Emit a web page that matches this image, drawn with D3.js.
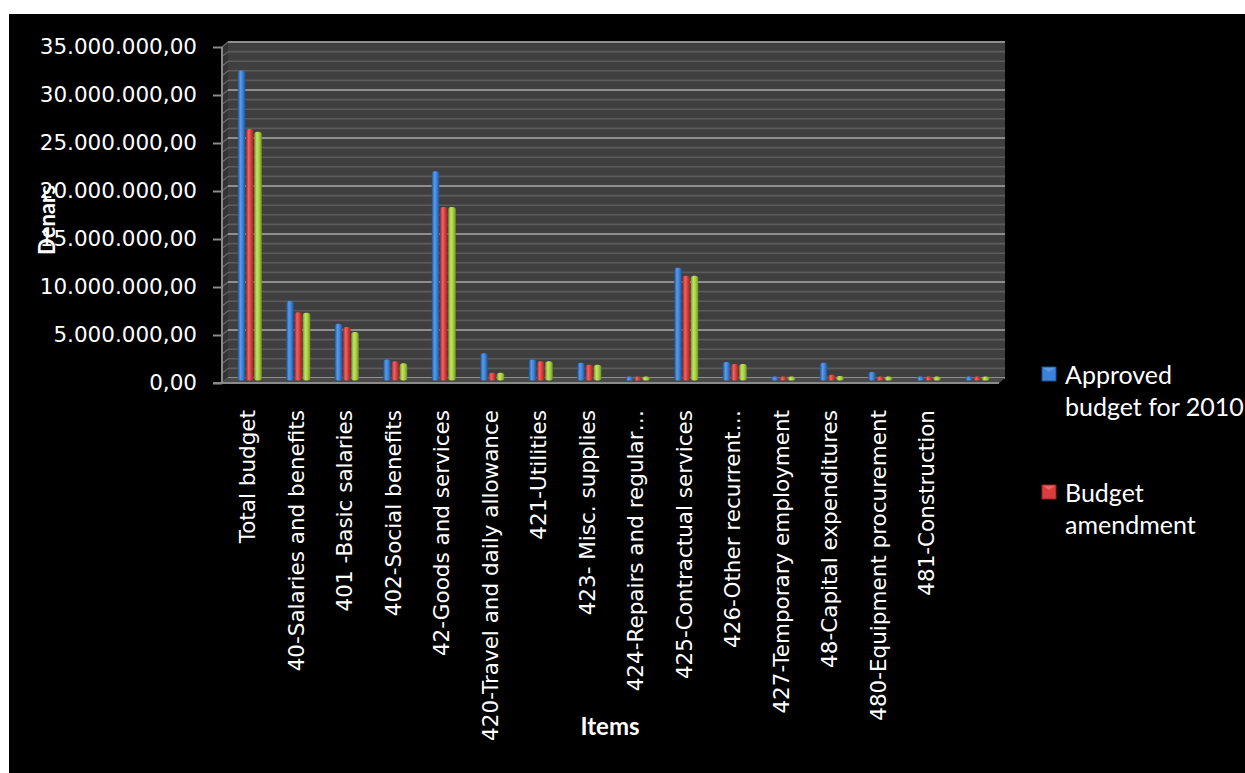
<!DOCTYPE html>
<html>
<head>
<meta charset="utf-8">
<script src="https://cdn.jsdelivr.net/npm/d3@7/dist/d3.min.js"></script>
<style>
  html, body { margin: 0; padding: 0; background: #ffffff; }
  svg { display: block; }
</style>
</head>
<body>
<svg id="chart" width="1245" height="773"></svg>
<script>
// ---- data ----
const categories = ["Total budget", "40-Salaries and benefits", "401 -Basic salaries", "402-Social benefits",
  "42-Goods and services", "420-Travel and daily allowance", "421-Utilities", "423- Misc. supplies",
  "424-Repairs and regular…", "425-Contractual services", "426-Other recurrent…", "427-Temporary employment",
  "48-Capital expenditures", "480-Equipment procurement", "481-Construction", ""];
const seriesNames = ["Approved budget for 2010", "Budget amendment", "Series 3"];
const approved  = [32300000, 8280000, 5900000, 2200000, 21800000, 2830000, 2200000, 1860000, 260000, 11750000, 1930000, 120000, 1860000, 890000, 360000, 360000];
const amendment = [26200000, 7100000, 5570000, 2000000, 18070000, 810000, 2000000, 1650000, 220000, 10900000, 1720000, 100000, 600000, 190000, 200000, 250000];
const series3   = [25900000, 7060000, 5050000, 1800000, 18070000, 810000, 2000000, 1650000, 200000, 10900000, 1720000, 100000, 470000, 150000, 150000, 120000];
const yTicks = [0, 5000000, 10000000, 15000000, 20000000, 25000000, 30000000, 35000000];
const legendShown = [0, 1];

const seriesValues = [approved, amendment, series3];
const colors = [
  { dark: "#1d4f95", mid: "#3d82d6", light: "#5b9be6" },
  { dark: "#9c2323", mid: "#d93d3d", light: "#ec6666" },
  { dark: "#6f9421", mid: "#a6cf3f", light: "#c2e36a" }
];

const svg = d3.select("#chart");
const W = 1245, H = 773;

// black panel
svg.append("rect").attr("x", 9).attr("y", 14).attr("width", W - 9).attr("height", H - 14).attr("fill", "#000");

// scales
const x0 = 222, x1 = 998, yBottom = 383, yTop = 47;
const dx = 6, dy = -5; // 3D depth offset
const y = d3.scaleLinear().domain([0, 35000000]).range([yBottom, yTop]);
const xBand = d3.scaleBand().domain(d3.range(categories.length)).range([x0, x1]);
const xSer = d3.scaleBand().domain(d3.range(3)).range([0, 24]).paddingInner(0.08);

const defs = svg.append("defs");
colors.forEach((c, i) => {
  const g = defs.append("linearGradient").attr("id", "bar" + i).attr("x1", 0).attr("x2", 1).attr("y1", 0).attr("y2", 0);
  g.append("stop").attr("offset", "0%").attr("stop-color", c.dark);
  g.append("stop").attr("offset", "35%").attr("stop-color", c.light);
  g.append("stop").attr("offset", "65%").attr("stop-color", c.mid);
  g.append("stop").attr("offset", "100%").attr("stop-color", c.dark);
});

// back wall
svg.append("rect").attr("x", x0 + dx).attr("y", yTop + dy)
  .attr("width", 1005 - (x0 + dx)).attr("height", (yBottom + dy) - (yTop + dy))
  .attr("fill", "#3f3f3f");
// side wall
svg.append("polygon")
  .attr("points", [[x0, yTop], [x0 + dx, yTop + dy], [x0 + dx, yBottom + dy], [x0, yBottom]].map(p => p.join(",")).join(" "))
  .attr("fill", "#333");

// minor gridlines (every 1M)
const minor = d3.range(0, 35000001, 1000000);
svg.append("g").selectAll("line").data(minor.filter(v => v % 5000000 !== 0)).join("line")
  .attr("x1", x0 + dx).attr("x2", 1005)
  .attr("y1", d => y(d) + dy).attr("y2", d => y(d) + dy)
  .attr("stroke", "#5c5c5c").attr("stroke-width", 1.6);
svg.append("g").selectAll("line").data(minor).join("line")
  .attr("x1", x0).attr("x2", x0 + dx)
  .attr("y1", d => y(d)).attr("y2", d => y(d) + dy)
  .attr("stroke", "#6a6a6a").attr("stroke-width", 1.2);
// major gridlines
svg.append("g").selectAll("line").data(yTicks).join("line")
  .attr("x1", x0 + dx).attr("x2", 1005)
  .attr("y1", d => y(d) + dy).attr("y2", d => y(d) + dy)
  .attr("stroke", "#8e8e8e").attr("stroke-width", 2);

// floor
svg.append("polygon")
  .attr("points", [[x0, yBottom], [x0 + dx, yBottom + dy], [1005, yBottom + dy], [999, yBottom]].map(p => p.join(",")).join(" "))
  .attr("fill", "#4a4a4a");

// bars
const groups = svg.append("g").selectAll("g").data(categories.map((c, i) => i)).join("g")
  .attr("transform", i => `translate(${xBand(i) + xBand.bandwidth() / 2 - 12 + 3.5},0)`);
groups.selectAll("rect").data(i => seriesValues.map((vals, s) => ({ s, v: vals[i] }))).join("rect")
  .attr("x", d => xSer(d.s))
  .attr("width", xSer.bandwidth())
  .attr("y", d => Math.min(y(d.v), y(0) - 4) - 2.5)
  .attr("height", d => Math.max(4, y(0) - y(d.v)))
  .attr("rx", 3).attr("ry", 2.5)
  .attr("fill", d => `url(#bar${d.s})`);

// floor front edge & y axis
svg.append("line").attr("x1", 213).attr("x2", 999).attr("y1", yBottom).attr("y2", yBottom)
  .attr("stroke", "#8a8a8a").attr("stroke-width", 2);
const yAxis = d3.axisLeft(y).tickValues(yTicks).tickSize(9)
  .tickFormat(d3.formatLocale({ decimal: ",", thousands: ".", grouping: [3], currency: ["", ""] }).format(",.2f"));
const ya = svg.append("g").attr("transform", `translate(${x0},0)`).call(yAxis);
ya.select(".domain").attr("stroke", "#8a8a8a").attr("stroke-width", 2).attr("d", `M0,${yTop}V${yBottom}`);
ya.selectAll(".tick line").attr("stroke", "#8a8a8a").attr("stroke-width", 2);
ya.selectAll(".tick text").attr("x", -25).attr("fill", "#fff")
  .style("font-family", "'DejaVu Sans', sans-serif").style("font-size", "21.5px");

// category labels
svg.append("g").selectAll("text").data(categories.map((c, i) => ({ c, i }))).join("text")
  .attr("transform", d => `translate(${xBand(d.i) + xBand.bandwidth() / 2 + 1},410) rotate(-90)`)
  .attr("text-anchor", "end").attr("dy", "0.36em")
  .attr("fill", "#fff")
  .style("font-family", "'DejaVu Sans', sans-serif").style("font-size", "21.5px")
  .text(d => d.c);

// axis titles
svg.append("text").attr("x", 610).attr("y", 735).attr("text-anchor", "middle").attr("fill", "#fff")
  .style("font-family", "Lato, sans-serif").style("font-weight", "bold").style("font-size", "24px").text("Items");
svg.append("text").attr("transform", "translate(47,220) rotate(-90)").attr("text-anchor", "middle").attr("dy", "0.36em")
  .attr("fill", "#fff")
  .style("font-family", "Lato, sans-serif").style("font-weight", "bold").style("font-size", "22px").text("Denars");

// legend
const legendWrap = { 0: ["Approved", "budget for 2010"], 1: ["Budget", "amendment"] };
const lg = svg.append("g").selectAll("g").data(legendShown).join("g")
  .attr("transform", (d, k) => `translate(1042,${367 + k * 118})`);
lg.append("rect").attr("width", 14).attr("height", 14).attr("fill", d => colors[d].mid);
lg.append("polygon").attr("points", "0,0 14,0 7,5").attr("fill", d => colors[d].light);
lg.append("rect").attr("width", 14).attr("height", 14).attr("fill", "none").attr("stroke", d => colors[d].dark).attr("stroke-width", 1);
lg.append("text").attr("x", 23).attr("y", 17).attr("fill", "#fff")
  .style("font-family", "Lato, sans-serif").style("font-size", "25px")
  .selectAll("tspan").data(d => legendWrap[d]).join("tspan")
  .attr("x", 23).attr("dy", (t, j) => j === 0 ? 0 : 32).text(t => t);
</script>
</body>
</html>
